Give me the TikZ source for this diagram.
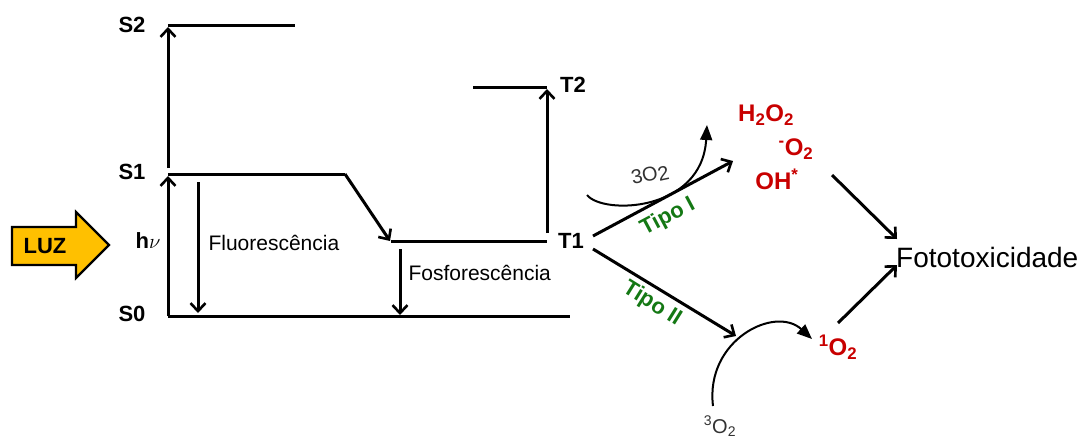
\documentclass[tikz,border=0pt]{standalone}
\usepackage{fontspec}
\setmainfont{Liberation Sans}
\usetikzlibrary{arrows.meta}
\definecolor{luzfill}{RGB}{255,192,0}
\definecolor{rosred}{RGB}{200,0,0}
\definecolor{tipogreen}{RGB}{20,120,20}
\definecolor{oxgrey}{RGB}{50,50,50}
\begin{document}
\begin{tikzpicture}[x=1pt,y=-1pt,
  lvl/.style={line width=3pt},
  ar/.style={line width=3pt,-{Straight Barb[length=8pt,width=15pt,line width=2.6pt]}},
  car/.style={line width=2pt,-{Triangle[length=15pt,width=12pt]}},
  lab/.style={font=\fontsize{22}{26}\selectfont\bfseries},
  txt/.style={font=\fontsize{21}{25}\selectfont},
  rosl/.style={font=\fontsize{24}{28}\selectfont\bfseries,text=rosred,inner sep=0pt},
  tipo/.style={font=\fontsize{22}{26}\selectfont\bfseries,text=tipogreen,inner sep=0pt},
  oxl/.style={font=\fontsize{20}{24}\selectfont,text=oxgrey,inner sep=0pt}]
\useasboundingbox (0,0) rectangle (1083,437);

% energy levels
\coordinate (s2a) at (168,25);  \coordinate (s2b) at (295,25);
\coordinate (s1a) at (168,174); \coordinate (s1b) at (345,174);
\coordinate (t1a) at (391,241); \coordinate (t1b) at (547,241);
\coordinate (t2a) at (473,87);  \coordinate (t2b) at (547,87);
\coordinate (s0a) at (168,316); \coordinate (s0b) at (570,316);
\draw[lvl] (s2a) -- (s2b);
\draw[lvl] (s1a) -- (s1b);
\draw[lvl] (t1a) -- (t1b);
\draw[lvl] (t2a) -- (t2b);
\draw[lvl] (s0a) -- (s0b);

% level labels
\node[lab] (S2) at (132,25) {S2};
\node[lab] (S1) at (132,172) {S1};
\node[lab] (S0) at (132,314) {S0};
\node[lab] (T1) at (571,241) {T1};
\node[lab] (T2) at (573,85) {T2};
\node[font=\fontsize{22}{26}\selectfont] (hv) at (148,241) {\textbf{h}$\nu$};

% transitions
\coordinate (s1top) at (168,168);
\draw[ar] (s1top) -- ([yshift=-2pt]s2a);
\draw[ar] (s0a) -- ([yshift=-2pt]s1a);
\draw[ar] (s1b) -- ([xshift=-1pt]t1a);
\coordinate (fla) at (198,182); \coordinate (flb) at (198,313);
\draw[ar] (fla) -- (flb);
\node[txt,anchor=west] (fluo) at (205,243) {Fluorescência};
\coordinate (pha) at (400,249); \coordinate (phb) at (400,315);
\draw[ar] (pha) -- (phb);
\node[txt,anchor=west] (fosf) at (405,273) {Fosforescência};
\coordinate (t1top) at (547,233);
\draw[ar] (t1top) -- ([yshift=-2pt]t2b);

% light arrow
\draw[line width=2.2pt,fill=luzfill] (12,227) -- (76,227) -- (76,212) -- (109,245)
  -- (76,278) -- (76,265) -- (12,265) -- cycle;
\node[lab] (luz) at (45,246) {LUZ};

% reactive species
\node[rosl] (h2o2) at (766,115) {H\textsubscript{2}O\textsubscript{2}};
\node[rosl] (o2m) at (796,149) {\textsuperscript{-}O\textsubscript{2}};
\node[rosl] (oh) at (777,179) {OH\textsuperscript{*}};
\node[rosl] (singlet) at (838,347) {\textsuperscript{1}O\textsubscript{2}};
\node[font=\fontsize{28}{32}\selectfont,anchor=west,inner sep=0pt] (foto) at (896,257) {Fototoxicidade};

% Tipo I
\coordinate (t1o1) at (593,236); \coordinate (ros) at (733,161);
\draw[ar] (t1o1) -- (ros);
\node[tipo,rotate=28] (tipoI) at (668,217) {Tipo I};
\coordinate (o3s) at (587,195); \coordinate (o3e) at (707,125);
\draw[car] (o3s) .. controls (603,215) and (702,212) .. (o3e);
\node[oxl,rotate=12] (o3top) at (650,175) {3O\raisebox{-2pt}{2}};

% Tipo II
\coordinate (t1o2) at (593,249); \coordinate (ox) at (736,336);
\draw[ar] (t1o2) -- (ox);
\node[tipo,rotate=-32] (tipoII) at (652,304) {Tipo II};
\coordinate (o3b) at (713,406); \coordinate (o3f) at (812,339);
\draw[car] (o3b) .. controls (705,340) and (775,305) .. (o3f);
\node[oxl] (o3bot) at (720,426) {\textsuperscript{3}O\textsubscript{2}};

% to phototoxicity
\coordinate (r1) at (832,175); \coordinate (f1) at (897,239);
\draw[ar] (r1) -- (f1);
\coordinate (r2) at (838,323); \coordinate (f2) at (897,265);
\draw[ar] (r2) -- (f2);
\end{tikzpicture}
\end{document}
